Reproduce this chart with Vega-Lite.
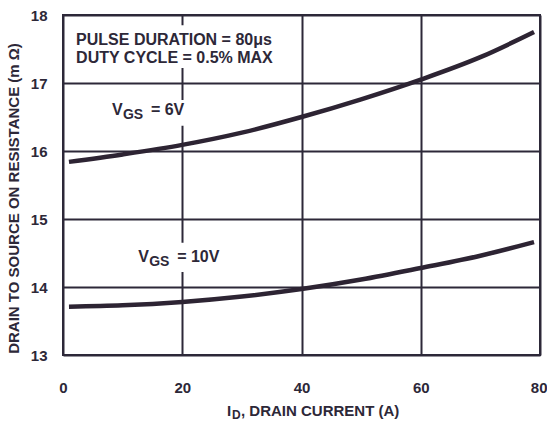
{
  "$schema": "https://vega.github.io/schema/vega-lite/v6.json",
  "width": 477,
  "height": 340,
  "autosize": "none",
  "padding": {"left": 63, "top": 15, "right": 7, "bottom": 66},
  "background": "white",
  "config": {
    "font": "Liberation Sans",
    "view": {"stroke": "#2d2838", "strokeWidth": 2},
    "axis": {
      "domain": false,
      "ticks": false,
      "grid": true,
      "gridColor": "#2d2838",
      "gridWidth": 2,
      "gridOpacity": 1,
      "labelFont": "Liberation Sans",
      "labelFontWeight": "bold",
      "labelFontSize": 15,
      "labelColor": "#2d2838",
      "titleFont": "Liberation Sans",
      "titleFontWeight": "bold",
      "titleColor": "#2d2838"
    },
    "text": {"font": "Liberation Sans", "fontWeight": "bold", "color": "#2d2838"}
  },
  "datasets": {
    "curves": [
      {"vgs": "6V", "id": 1, "rds": 15.84},
      {"vgs": "6V", "id": 10, "rds": 15.95},
      {"vgs": "6V", "id": 20, "rds": 16.09},
      {"vgs": "6V", "id": 30, "rds": 16.27},
      {"vgs": "6V", "id": 40, "rds": 16.5},
      {"vgs": "6V", "id": 50, "rds": 16.76},
      {"vgs": "6V", "id": 60, "rds": 17.05},
      {"vgs": "6V", "id": 70, "rds": 17.38},
      {"vgs": "6V", "id": 79, "rds": 17.75},
      {"vgs": "10V", "id": 1, "rds": 13.71},
      {"vgs": "10V", "id": 10, "rds": 13.73},
      {"vgs": "10V", "id": 20, "rds": 13.78},
      {"vgs": "10V", "id": 30, "rds": 13.86},
      {"vgs": "10V", "id": 40, "rds": 13.97},
      {"vgs": "10V", "id": 50, "rds": 14.11},
      {"vgs": "10V", "id": 60, "rds": 14.28},
      {"vgs": "10V", "id": 70, "rds": 14.46},
      {"vgs": "10V", "id": 79, "rds": 14.66}
    ],
    "boxes": [
      {"x": 1.2, "x2": 36.4, "y": 17.85, "y2": 17.22},
      {"x": 7.4, "x2": 23.3, "y": 16.75, "y2": 16.37},
      {"x": 10.6, "x2": 26.5, "y": 14.65, "y2": 14.22}
    ],
    "notes": [
      {"x": 2.2, "y": 17.56, "t": "PULSE DURATION = 80μs"},
      {"x": 2.2, "y": 17.3, "t": "DUTY CYCLE = 0.5% MAX"}
    ],
    "sublabels": [
      {"x": 8.2, "y": 16.53, "main": "V", "sub": "GS", "rest": "= 6V"},
      {"x": 12.6, "y": 14.37, "main": "V", "sub": "GS", "rest": "= 10V"}
    ],
    "xtitle": [
      {"x": 27.5, "y": 12.1, "main": "I", "sub": "D", "rest": ", DRAIN CURRENT (A)"}
    ]
  },
  "encoding": {
    "x": {
      "type": "quantitative",
      "scale": {"domain": [0, 80], "nice": false},
      "axis": {
        "values": [0, 20, 40, 60, 80],
        "labelPadding": 25,
        "title": null,
        "labelFlush": false,
        "labelAlign": {"condition": {"test": "datum.value == 80", "value": "right"}, "value": "center"},
        "labelOffset": {"condition": {"test": "datum.value == 80", "value": 7}, "value": 0}
      }
    },
    "y": {
      "type": "quantitative",
      "scale": {"domain": [13, 18], "nice": false, "zero": false},
      "axis": {"values": [13, 14, 15, 16, 17, 18], "labelPadding": 16, "title": "DRAIN TO SOURCE ON RESISTANCE (m Ω)", "titleFontSize": 15, "titlePadding": 9, "titleY": 183}
    }
  },
  "layer": [
    {
      "data": {"name": "boxes"},
      "mark": {"type": "rect", "fill": "white"},
      "encoding": {
        "x": {"field": "x"},
        "x2": {"field": "x2"},
        "y": {"field": "y"},
        "y2": {"field": "y2"}
      }
    },
    {
      "data": {"name": "curves"},
      "mark": {"type": "line", "interpolate": "monotone", "strokeWidth": 4.5, "color": "#2d2433", "strokeCap": "butt"},
      "encoding": {
        "x": {"field": "id"},
        "y": {"field": "rds"},
        "detail": {"field": "vgs"}
      }
    },
    {
      "data": {"name": "notes"},
      "mark": {"type": "text", "align": "left", "baseline": "alphabetic", "fontSize": 16},
      "encoding": {
        "x": {"field": "x"},
        "y": {"field": "y"},
        "text": {"field": "t"}
      }
    },
    {
      "data": {"name": "sublabels"},
      "layer": [
        {
          "mark": {"type": "text", "align": "left", "baseline": "alphabetic", "fontSize": 16},
          "encoding": {"x": {"field": "x"}, "y": {"field": "y"}, "text": {"field": "main"}}
        },
        {
          "mark": {"type": "text", "align": "left", "baseline": "alphabetic", "fontSize": 14, "dx": 11, "dy": 4},
          "encoding": {"x": {"field": "x"}, "y": {"field": "y"}, "text": {"field": "sub"}}
        },
        {
          "mark": {"type": "text", "align": "left", "baseline": "alphabetic", "fontSize": 16, "dx": 39},
          "encoding": {"x": {"field": "x"}, "y": {"field": "y"}, "text": {"field": "rest"}}
        }
      ]
    },
    {
      "data": {"name": "xtitle"},
      "layer": [
        {
          "mark": {"type": "text", "align": "left", "baseline": "alphabetic", "fontSize": 15},
          "encoding": {"x": {"field": "x"}, "y": {"field": "y"}, "text": {"field": "main"}}
        },
        {
          "mark": {"type": "text", "align": "left", "baseline": "alphabetic", "fontSize": 12, "dx": 5, "dy": 3},
          "encoding": {"x": {"field": "x"}, "y": {"field": "y"}, "text": {"field": "sub"}}
        },
        {
          "mark": {"type": "text", "align": "left", "baseline": "alphabetic", "fontSize": 15, "dx": 14},
          "encoding": {"x": {"field": "x"}, "y": {"field": "y"}, "text": {"field": "rest"}}
        }
      ]
    }
  ]
}
